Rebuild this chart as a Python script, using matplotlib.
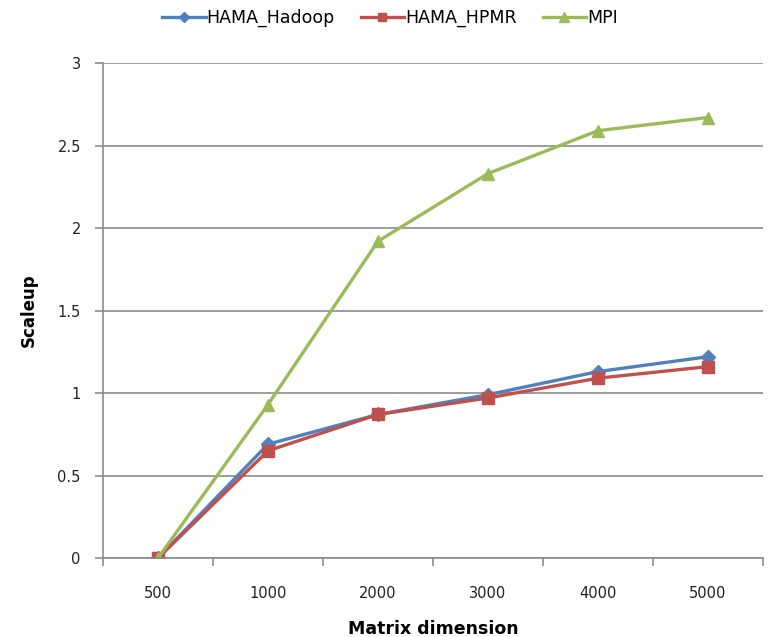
import matplotlib.pyplot as plt
import numpy as np

# data
dims = ['500', '1000', '2000', '3000', '4000', '5000']
hama_hadoop = [0.0, 0.69, 0.87, 0.99, 1.13, 1.22]
hama_hpmr = [0.0, 0.65, 0.87, 0.97, 1.09, 1.16]
mpi = [0.0, 0.93, 1.92, 2.33, 2.59, 2.67]

plt.rcParams['font.family'] = ['DejaVu Sans']

fig = plt.figure(figsize=(7.69, 6.37), dpi=100)
ax = fig.add_axes([0.134, 0.124, 0.858, 0.777])

x = np.arange(len(dims))
ax.plot(x, hama_hadoop, color='#4F81BD', lw=2.4, marker='D', ms=7, label='HAMA_Hadoop')
ax.plot(x, hama_hpmr, color='#C0504D', lw=2.4, marker='s', ms=8, label='HAMA_HPMR')
ax.plot(x, mpi, color='#9BBB59', lw=2.4, marker='^', ms=9, label='MPI')

ax.set_xlim(-0.5, len(dims) - 0.5)
ax.set_ylim(0, 3)
ax.set_yticks(np.arange(0, 3.01, 0.5))
ax.set_yticklabels(['0', '0.5', '1', '1.5', '2', '2.5', '3'])
ax.set_xticks(x)
ax.set_xticklabels(dims)
ax.set_xticks(np.arange(-0.5, len(dims)), minor=True)
ax.tick_params(axis='x', which='major', length=0, pad=20, labelsize=10.5, colors='#222222')
ax.tick_params(axis='x', which='minor', length=6, width=1.2, color='#8c8c8c', direction='out')
ax.tick_params(axis='y', length=6, width=1.2, color='#8c8c8c', pad=10, labelsize=10.5, labelcolor='#222222')

ax.grid(axis='y', color='#8c8c8c', lw=1.2)
ax.set_axisbelow(True)
for s in ['top', 'right']:
    ax.spines[s].set_visible(False)
for s in ['left', 'bottom']:
    ax.spines[s].set_color('#8c8c8c')
    ax.spines[s].set_linewidth(1.2)

ax.set_xlabel('Matrix dimension', fontsize=12.5, fontweight='bold', labelpad=14)
ax.set_ylabel('Scaleup', fontsize=12, fontweight='bold', labelpad=14)

fig.legend(loc='upper center', bbox_to_anchor=(0.507, 1.0), ncol=3, frameon=False,
           fontsize=12.5, handlelength=2.5, columnspacing=1.5, handletextpad=0.05,
           markerscale=0.8, borderaxespad=0.1)

fig.savefig('out.png', dpi=100, facecolor='white')
